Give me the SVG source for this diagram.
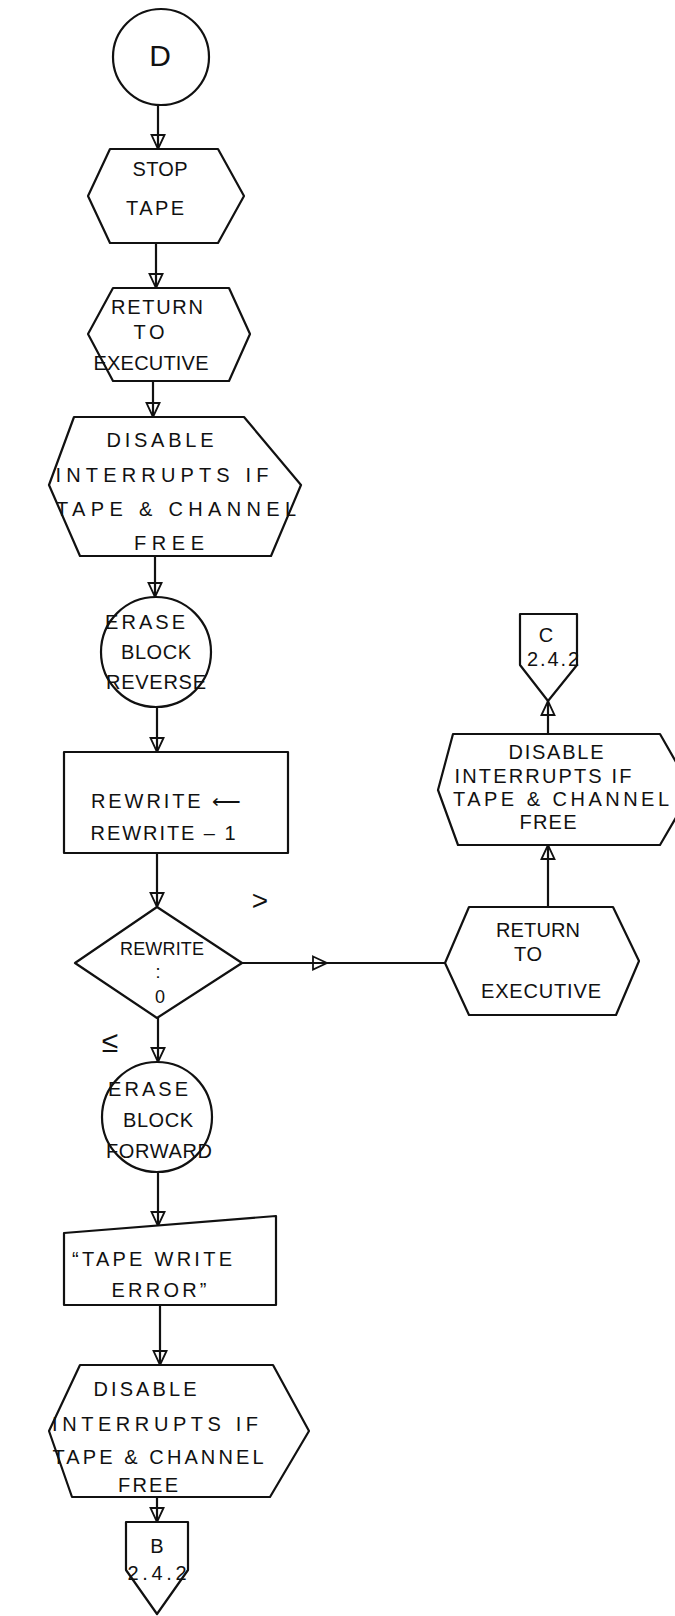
<svg xmlns="http://www.w3.org/2000/svg" width="675" height="1616" viewBox="0 0 675 1616">
  <style>
    .shape { fill: #fff; stroke: #111; stroke-width: 2.2; stroke-linejoin: round; }
    .lbl { font-family: "Liberation Sans", Arial, sans-serif; font-size: 20px; fill: #111; text-anchor: middle; }
    .big { font-size: 30px; }
    .sm { font-size: 18px; }
    .edge { fill: none; stroke: #111; stroke-width: 2.2; }
  </style>
  <defs>
    <marker id="arrow" viewBox="0 0 16 16" refX="15" refY="8" markerWidth="16" markerHeight="16" markerUnits="userSpaceOnUse" orient="auto">
      <path d="M1,1.5 L15,8 L1,14.5 Z" fill="none" stroke="#111" stroke-width="1.8"/>
    </marker>
  </defs>

  <!-- connectors -->
  <g id="connectors">
    <path class="edge" d="M158,106 L158,149" marker-end="url(#arrow)"/>
    <path class="edge" d="M156,243 L156,288" marker-end="url(#arrow)"/>
    <path class="edge" d="M153,381 L153,417" marker-end="url(#arrow)"/>
    <path class="edge" d="M155,556 L155,597" marker-end="url(#arrow)"/>
    <path class="edge" d="M157,707 L157,752" marker-end="url(#arrow)"/>
    <path class="edge" d="M157,853 L157,907" marker-end="url(#arrow)"/>
    <path class="edge" d="M158,1018 L158,1062" marker-end="url(#arrow)"/>
    <path class="edge" d="M158,1172 L158,1226" marker-end="url(#arrow)"/>
    <path class="edge" d="M160,1305 L160,1365" marker-end="url(#arrow)"/>
    <path class="edge" d="M157,1497 L157,1522" marker-end="url(#arrow)"/>
    <!-- REWRITE > 0 branch -->
    <path class="edge" d="M242,963 L327,963" marker-end="url(#arrow)"/>
    <path class="edge" d="M325,963 L445,963"/>
    <path class="edge" d="M548,907 L548,845" marker-end="url(#arrow)"/>
    <path class="edge" d="M548,734 L548,701" marker-end="url(#arrow)"/>
    <text class="lbl" x="260" y="910" style="font-size:28px">&gt;</text>
    <text class="lbl" x="110" y="1052" style="font-size:30px">≤</text>
  </g>

  <g id="connector-d">
    <circle class="shape" cx="161" cy="57" r="48"/>
    <text class="lbl big" x="160" y="66">D</text>
  </g>

  <g id="stop-tape">
    <polygon class="shape" points="110,149 218,149 244,196 218,243 110,243 88,196"/>
    <text class="lbl" x="160" y="176" textLength="55" lengthAdjust="spacing">STOP</text>
    <text class="lbl" x="155" y="215" textLength="58" lengthAdjust="spacing">TAPE</text>
  </g>

  <g id="return-executive-1">
    <polygon class="shape" points="113,288 229,288 250,334 229,381 113,381 88,334"/>
    <text class="lbl" x="157" y="314" textLength="92" lengthAdjust="spacing">RETURN</text>
    <text class="lbl" x="149" y="339" textLength="31" lengthAdjust="spacing">TO</text>
    <text class="lbl" x="151" y="370" textLength="115" lengthAdjust="spacing">EXECUTIVE</text>
  </g>

  <g id="disable-interrupts-1">
    <polygon class="shape" points="74,417 244,417 301,485 271,556 80,556 49,485"/>
    <text class="lbl" x="160" y="447" textLength="107" lengthAdjust="spacing">DISABLE</text>
    <text class="lbl" x="162" y="482" textLength="213" lengthAdjust="spacing">INTERRUPTS IF</text>
    <text class="lbl" x="176" y="516" textLength="240" lengthAdjust="spacing">TAPE &amp; CHANNEL</text>
    <text class="lbl" x="169" y="550" textLength="70" lengthAdjust="spacing">FREE</text>
  </g>

  <g id="erase-reverse">
    <circle class="shape" cx="156" cy="652" r="55"/>
    <text class="lbl" x="145" y="629" textLength="80" lengthAdjust="spacing">ERASE</text>
    <text class="lbl" x="156" y="659" textLength="70" lengthAdjust="spacing">BLOCK</text>
    <text class="lbl" x="156" y="689" textLength="100" lengthAdjust="spacing">REVERSE</text>
  </g>

  <g id="decrement-rewrite">
    <rect class="shape" x="64" y="752" width="224" height="101"/>
    <text class="lbl" x="166" y="808" textLength="150" lengthAdjust="spacing">REWRITE ⟵</text>
    <text class="lbl" x="163" y="840" textLength="145" lengthAdjust="spacing">REWRITE – 1</text>
  </g>

  <g id="test-rewrite">
    <polygon class="shape" points="157,907 242,963 157,1018 75,963"/>
    <text class="lbl sm" x="162" y="955" textLength="84" lengthAdjust="spacing">REWRITE</text>
    <text class="lbl sm" x="158" y="978">:</text>
    <text class="lbl sm" x="160" y="1003">0</text>
  </g>

  <g id="erase-forward">
    <circle class="shape" cx="157" cy="1117" r="55"/>
    <text class="lbl" x="148" y="1096" textLength="80" lengthAdjust="spacing">ERASE</text>
    <text class="lbl" x="158" y="1127" textLength="70" lengthAdjust="spacing">BLOCK</text>
    <text class="lbl" x="159" y="1158" textLength="106" lengthAdjust="spacing">FORWARD</text>
  </g>

  <g id="tape-write-error">
    <polygon class="shape" points="64,1233 276,1216 276,1305 64,1305"/>
    <text class="lbl" x="152" y="1266" textLength="160" lengthAdjust="spacing">“TAPE WRITE</text>
    <text class="lbl" x="159" y="1297" textLength="95" lengthAdjust="spacing">ERROR”</text>
  </g>

  <g id="disable-interrupts-2">
    <polygon class="shape" points="80,1365 273,1365 309,1431 270,1497 72,1497 49,1431"/>
    <text class="lbl" x="145" y="1396" textLength="103" lengthAdjust="spacing">DISABLE</text>
    <text class="lbl" x="155" y="1431" textLength="206" lengthAdjust="spacing">INTERRUPTS IF</text>
    <text class="lbl" x="158" y="1464" textLength="211" lengthAdjust="spacing">TAPE &amp; CHANNEL</text>
    <text class="lbl" x="148" y="1492" textLength="60" lengthAdjust="spacing">FREE</text>
  </g>

  <g id="offpage-b">
    <polygon class="shape" points="126,1522 188,1522 188,1570 157,1614 126,1570"/>
    <text class="lbl" x="157" y="1553">B</text>
    <text class="lbl" x="157" y="1580" textLength="59" lengthAdjust="spacing">2.4.2</text>
  </g>

  <g id="offpage-c">
    <polygon class="shape" points="520,614 577,614 577,665 548,701 520,665"/>
    <text class="lbl" x="546" y="642">C</text>
    <text class="lbl" x="553" y="666" textLength="52" lengthAdjust="spacing">2.4.2</text>
  </g>

  <g id="disable-interrupts-3">
    <polygon class="shape" points="453,734 660,734 692,790 660,845 458,845 438,790"/>
    <text class="lbl" x="556" y="759" textLength="95" lengthAdjust="spacing">DISABLE</text>
    <text class="lbl" x="543" y="783" textLength="177" lengthAdjust="spacing">INTERRUPTS IF</text>
    <text class="lbl" x="561" y="806" textLength="216" lengthAdjust="spacing">TAPE &amp; CHANNEL</text>
    <text class="lbl" x="548" y="829" textLength="57" lengthAdjust="spacing">FREE</text>
  </g>

  <g id="return-executive-2">
    <polygon class="shape" points="469,907 613,907 639,961 616,1015 469,1015 445,963"/>
    <text class="lbl" x="538" y="937" textLength="84" lengthAdjust="spacing">RETURN</text>
    <text class="lbl" x="528" y="961" textLength="28" lengthAdjust="spacing">TO</text>
    <text class="lbl" x="541" y="998" textLength="120" lengthAdjust="spacing">EXECUTIVE</text>
  </g>
</svg>
